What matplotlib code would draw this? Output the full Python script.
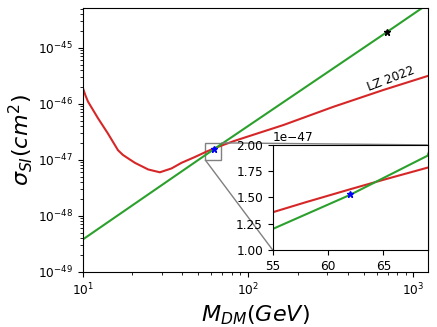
import matplotlib
matplotlib.use("Agg")
import matplotlib.pyplot as plt
from mpl_toolkits.axes_grid1.inset_locator import mark_inset

# LZ 2022 limit
lz_mass = [10, 10.4, 10.77, 12.38, 14.2, 16.35, 17.5, 18.8, 20.7, 24.9, 29.3,
           34.5, 39.6, 47.8, 55, 58, 62, 65, 69, 81.3, 100, 164, 328, 659, 1222]
lz_sigma = [1.95e-46, 1.4e-46, 1.09e-46, 5.5e-47, 2.95e-47, 1.48e-47, 1.22e-47,
            1.06e-47, 8.8e-48, 6.7e-48, 5.96e-48, 7.0e-48, 8.8e-48, 1.12e-47,
            1.359e-47, 1.455e-47, 1.578e-47, 1.668e-47, 1.784e-47, 2.13e-47,
            2.6e-47, 4.17e-47, 8.8e-47, 1.76e-46, 3.13e-46]

# model prediction (straight line in log-log)
model_mass = [10, 55, 62, 69, 697, 1222]
model_sigma = [3.75e-49, 1.2e-47, 1.525e-47, 1.898e-47, 1.93e-45, 6.0e-45]

bench_mass = [62]
bench_sigma = [1.53e-47]
far_mass = [697]
far_sigma = [1.93e-45]

FS = 8.7

fig = plt.figure(figsize=(4.37, 3.27), dpi=100)
ax = fig.add_axes([0.1892, 0.1691, 0.7895, 0.8055])

ax.plot(lz_mass, lz_sigma, color="tab:red", lw=1.5)
ax.plot(model_mass, model_sigma, color="tab:green", lw=1.5)
ax.plot(bench_mass, bench_sigma, "b*", ms=5)
ax.plot(far_mass, far_sigma, "k*", ms=5)
ax.set_xscale("log")
ax.set_yscale("log")
ax.set_xlim(10, 1222)
ax.set_ylim(1e-49, 5.06e-45)
ax.tick_params(labelsize=FS)
ax.set_xlabel(r"$M_{DM}(GeV)$", fontsize=16, labelpad=4)
ax.set_ylabel(r"$\sigma_{SI}(cm^2)$", fontsize=16, labelpad=2)
ax.text(736, 2.76e-46, "LZ 2022", rotation=21, fontsize=FS,
        ha="center", va="center")

# zoomed inset
axins = ax.inset_axes([0.5507, 0.0824, 0.4493, 0.399])
axins.plot(lz_mass, lz_sigma, color="tab:red", lw=1.5)
axins.plot(model_mass, model_sigma, color="tab:green", lw=1.5)
axins.plot(bench_mass, bench_sigma, "b*", ms=5)
axins.set_xlim(55, 69)
axins.set_ylim(1e-47, 2e-47)
axins.set_xticks([55, 60, 65])
axins.set_yticks([1.0e-47, 1.25e-47, 1.5e-47, 1.75e-47, 2.0e-47])
axins.tick_params(labelsize=FS)
axins.yaxis.get_offset_text().set_fontsize(FS)
mark_inset(ax, axins, loc1=1, loc2=3, fc="none", ec="0.5", lw=1)

fig.savefig("out.png", dpi=100)
